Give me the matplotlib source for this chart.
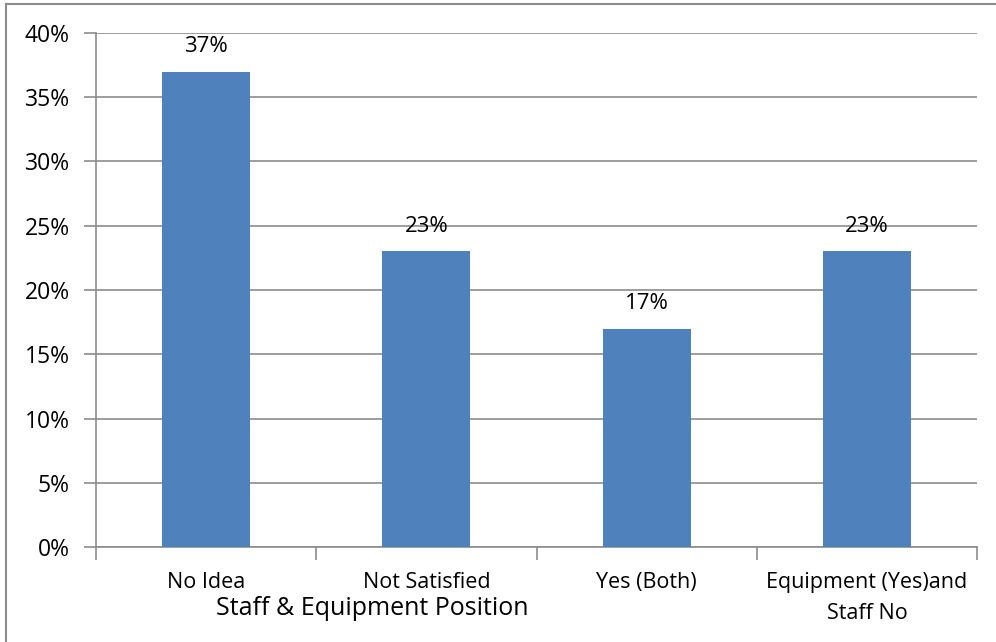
import matplotlib
matplotlib.use('Agg')
import matplotlib.pyplot as plt
from matplotlib.lines import Line2D

plt.rcParams['font.family'] = ['Open Sans', 'DejaVu Sans']

categories = ['No Idea', 'Not Satisfied', 'Yes (Both)', 'Equipment (Yes)and\nStaff No']
values = [37, 23, 17, 23]
value_labels = ['37%', '23%', '17%', '23%']
yticks = [0, 5, 10, 15, 20, 25, 30, 35, 40]
xlabel = 'Staff & Equipment Position'

bar_color = '#4F81BD'
grid_color = '#8C8C8C'

fig = plt.figure(figsize=(9.96, 6.42), dpi=100)
W, H = 996, 642
ax = fig.add_axes([96 / W, 1 - 547 / H, (977 - 96) / W, (547 - 33) / H])

x = list(range(len(categories)))
ax.bar(x, values, width=0.4, color=bar_color, zorder=3)
for xi, v, lab in zip(x, values, value_labels):
    ax.text(xi, v + 1.5, lab, ha='center', va='baseline', fontsize=16)

ax.set_xlim(-0.5, len(categories) - 0.5)
ax.set_ylim(0, 40)
ax.set_yticks(yticks)
ax.set_yticklabels([f'{t}%' for t in yticks], fontsize=16.5)
ax.yaxis.grid(True, color=grid_color, linewidth=1.2, zorder=0)
ax.tick_params(axis='y', length=9, color=grid_color, width=1.2, pad=10)

# category labels sit between the separator ticks
ax.set_xticks([i - 0.5 for i in range(len(categories) + 1)])
ax.set_xticklabels([])
ax.tick_params(axis='x', length=9, color=grid_color, width=1.2)
for xi, cat in zip(x, categories):
    ax.annotate(cat, (xi, 0), xycoords='data', xytext=(0, -18),
                textcoords='offset points', ha='center', va='top',
                fontsize=15.5, linespacing=1.65)

for side in ['top', 'right']:
    ax.spines[side].set_visible(False)
for side in ['left', 'bottom']:
    ax.spines[side].set_color(grid_color)
    ax.spines[side].set_linewidth(1.2)

fig.text(372 / W, 1 - 615 / H, xlabel, ha='center', va='baseline', fontsize=18)

# outer chart frame (left and top edges)
fig.add_artist(Line2D([6 / W, 6 / W], [0, 1 - 4 / H], color=grid_color, lw=1.5))
fig.add_artist(Line2D([6 / W, 1], [1 - 4 / H, 1 - 4 / H], color=grid_color, lw=1.5))

fig.savefig('out.png', dpi=100)
